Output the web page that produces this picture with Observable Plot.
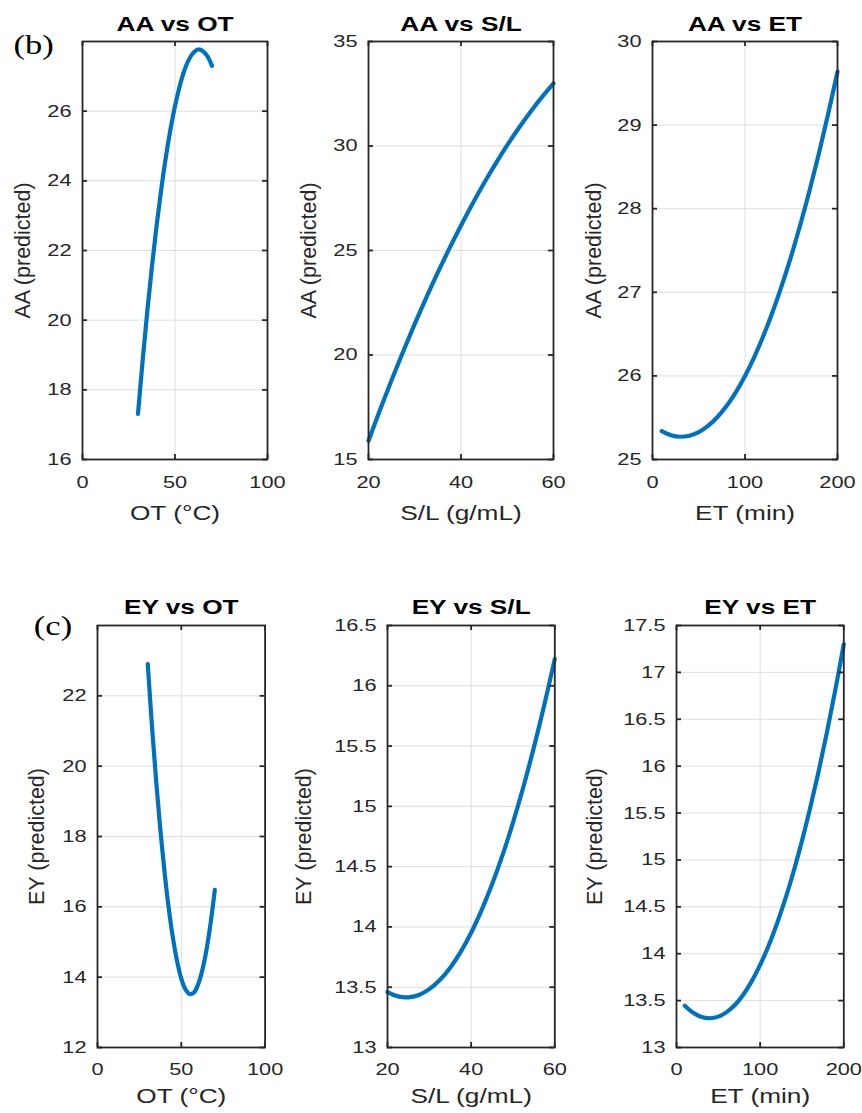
<!DOCTYPE html>
<html><head><meta charset="utf-8">
<script src="https://cdn.jsdelivr.net/npm/d3@7"></script>
<script src="https://cdn.jsdelivr.net/npm/@observablehq/plot@0.6"></script>
<style>
body{margin:0;background:#fff;}
#chart{position:relative;width:862px;height:1113px;overflow:hidden;background:#fff;}
#chart svg{position:absolute;}
</style></head><body><div id="chart"></div>
<script>
// ---- data ----
const otX  = [30, 32.5, 35, 37.5, 40, 42.5, 45, 47.5, 50, 52.5, 55, 57.5, 60, 62.5, 65, 67.5, 70];
const aaOT = [17.31, 18.83, 20.24, 21.52, 22.69, 23.73, 24.66, 25.46, 26.15, 26.71, 27.16, 27.48, 27.68, 27.77, 27.73, 27.58, 27.30];
const slX  = [20, 22.5, 25, 27.5, 30, 32.5, 35, 37.5, 40, 42.5, 45, 47.5, 50, 52.5, 55, 57.5, 60];
const aaSL = [15.90, 17.38, 18.80, 20.17, 21.49, 22.75, 23.95, 25.10, 26.20, 27.24, 28.23, 29.16, 30.04, 30.86, 31.63, 32.34, 33.00];
const etX  = [10, 20, 30, 40, 50, 60, 70, 80, 90, 100, 110, 120, 130, 140, 150, 160, 170, 180, 190, 200];
const aaET = [25.340, 25.291, 25.272, 25.285, 25.327, 25.401, 25.505, 25.639, 25.804, 26.000, 26.226, 26.483, 26.771, 27.089, 27.437, 27.817, 28.227, 28.667, 29.138, 29.640];
const eyOT = [22.90, 21.14, 19.58, 18.19, 16.99, 15.96, 15.12, 14.45, 13.96, 13.65, 13.52, 13.56, 13.79, 14.19, 14.77, 15.54, 16.48];
const eySL = [13.460, 13.424, 13.416, 13.436, 13.484, 13.559, 13.662, 13.793, 13.952, 14.139, 14.353, 14.595, 14.865, 15.163, 15.489, 15.842, 16.223];
const eyET = [13.445, 13.370, 13.325, 13.312, 13.329, 13.377, 13.455, 13.566, 13.708, 13.880, 14.083, 14.317, 14.581, 14.877, 15.203, 15.561, 15.949, 16.368, 16.819, 17.300];

const otTicks = [0, 50, 100];
const slTicks = [20, 40, 60];
const etTicks = [0, 100, 200];
const aaOTTicks = [16, 18, 20, 22, 24, 26];
const aaSLTicks = [15, 20, 25, 30, 35];
const aaETTicks = [25, 26, 27, 28, 29, 30];
const eyOTTicks = [12, 14, 16, 18, 20, 22];
const eySLTicks = [13, 13.5, 14, 14.5, 15, 15.5, 16, 16.5];
const eyETTicks = [13, 13.5, 14, 14.5, 15, 15.5, 16, 16.5, 17, 17.5];

const titles = ["AA vs OT", "AA vs S/L", "AA vs ET", "EY vs OT", "EY vs S/L", "EY vs ET"];
const xLabels = ["OT (°C)", "S/L (g/mL)", "ET (min)"];
const yLabels = ["AA (predicted)", "EY (predicted)"];
const tags = ["(b)", "(c)"];

// ---- layout ----
const ink = "#262626";
const panels = [
  {t:0, xs:otX, ys:aaOT, xd:[0,100], yd:[16,28], xt:otTicks, yt:aaOTTicks, xl:0, row:0, left:0,     fw:185,   mR:20, ylDx:-59.5, tag:0, tagDx:-69, tagDy:12},
  {t:1, xs:slX, ys:aaSL, xd:[20,60], yd:[15,35], xt:slTicks, yt:aaSLTicks, xl:1, row:0, left:285.5, fw:185,   mR:20, ylDx:-59},
  {t:2, xs:etX, ys:aaET, xd:[0,200], yd:[25,30], xt:etTicks, yt:aaETTicks, xl:2, row:0, left:570,   fw:185,   mR:20, ylDx:-58.7},
  {t:3, xs:otX, ys:eyOT, xd:[0,100], yd:[12,24], xt:otTicks, yt:eyOTTicks, xl:0, row:1, left:14.7,  fw:167.6, mR:20, ylDx:-60.7, tag:1, tagDx:-63.7, tagDy:10},
  {t:4, xs:slX, ys:eySL, xd:[20,60], yd:[13,16.5], xt:slTicks, yt:eySLTicks, xl:1, row:1, left:304.7, fw:167.3, mR:20, ylDx:-83},
  {t:5, xs:etX, ys:eyET, xd:[0,200], yd:[13,17.5], xt:etTicks, yt:eyETTicks, xl:2, row:1, left:594,   fw:167.3, mR:16, ylDx:-81}
];
const rows = [
  {top:0,   mT:41, fh:418, mB:71, titleDy:-10.3, xlDy:60, tickPad:16},
  {top:560, mT:65, fh:422, mB:66, titleDy:-11.7, xlDy:56, tickPad:15}
];

const chart = document.getElementById("chart");
for (const p of panels) {
  const r = rows[p.row];
  const mL = 82;
  const width = mL + p.fw + p.mR, height = r.mT + r.fh + r.mB;
  const data = p.xs.map((x, i) => ({x, y: p.ys[i]}));
  const marks = [
    Plot.ruleY(p.yt, {stroke: "#dedede", strokeWidth: 1}),
    Plot.ruleX(p.xt, {stroke: "#dedede", strokeWidth: 1}),
    Plot.line(data, {x: "x", y: "y", stroke: "#0072BD", strokeWidth: 4.2, curve: "catmull-rom"}),
    Plot.frame({stroke: ink, strokeWidth: 1.8}),
    Plot.tickY(p.yt, {y: d => d, stroke: ink, strokeWidth: 1.8, insetRight: p.fw - 5}),
    Plot.tickY(p.yt, {y: d => d, stroke: ink, strokeWidth: 1.8, insetLeft: p.fw - 5}),
    Plot.tickX(p.xt, {x: d => d, stroke: ink, strokeWidth: 1.8, insetTop: r.fh - 5}),
    Plot.tickX(p.xt, {x: d => d, stroke: ink, strokeWidth: 1.8, insetBottom: r.fh - 5}),
    Plot.axisY(p.yt, {tickSize: 0, tickPadding: 11, tickFormat: d => String(d), label: null, fontSize: 17}),
    Plot.axisX(p.xt, {tickSize: 0, tickPadding: r.tickPad, tickFormat: d => String(d), label: null, fontSize: 17}),
    Plot.text([titles[p.t]], {text: d => d, frameAnchor: "top", dy: r.titleDy, lineAnchor: "bottom", fontSize: 20.5, fontWeight: "bold", fill: "#000"}),
    Plot.text([xLabels[p.xl]], {text: d => d, frameAnchor: "bottom", dy: r.xlDy, lineAnchor: "bottom", fontSize: 20.5, fill: ink}),
    Plot.text([yLabels[p.row]], {text: d => d, frameAnchor: "left", dx: p.ylDx, rotate: -90, textAnchor: "middle", lineAnchor: "middle", fontSize: 21.5, fill: ink})
  ];
  if (p.tag !== undefined) {
    marks.push(Plot.text([tags[p.tag]], {text: d => d, frameAnchor: "top-left", dx: p.tagDx, dy: p.tagDy, textAnchor: "start", lineAnchor: "bottom", fontSize: 27, fontFamily: "'Liberation Serif', 'Times New Roman', serif", fill: "#000"}));
  }
  const svg = Plot.plot({
    width, height, marginLeft: mL, marginRight: p.mR, marginTop: r.mT, marginBottom: r.mB,
    x: {domain: p.xd}, y: {domain: p.yd},
    style: {background: "transparent", overflow: "visible", color: ink, fontFamily: "'Liberation Sans', Arial, sans-serif"},
    marks
  });
  svg.style.left = p.left + "px";
  svg.style.top = r.top + "px";
  chart.appendChild(svg);
  svg.querySelectorAll("text").forEach(t => {
    const tr = t.getAttribute("transform") || "";
    if (tr.includes("rotate")) return;
    const len = t.getComputedTextLength();
    if (len > 0) {
      t.setAttribute("textLength", (len * 1.28).toFixed(2));
      t.setAttribute("lengthAdjust", "spacingAndGlyphs");
    }
  });
}
</script>
</body></html>
